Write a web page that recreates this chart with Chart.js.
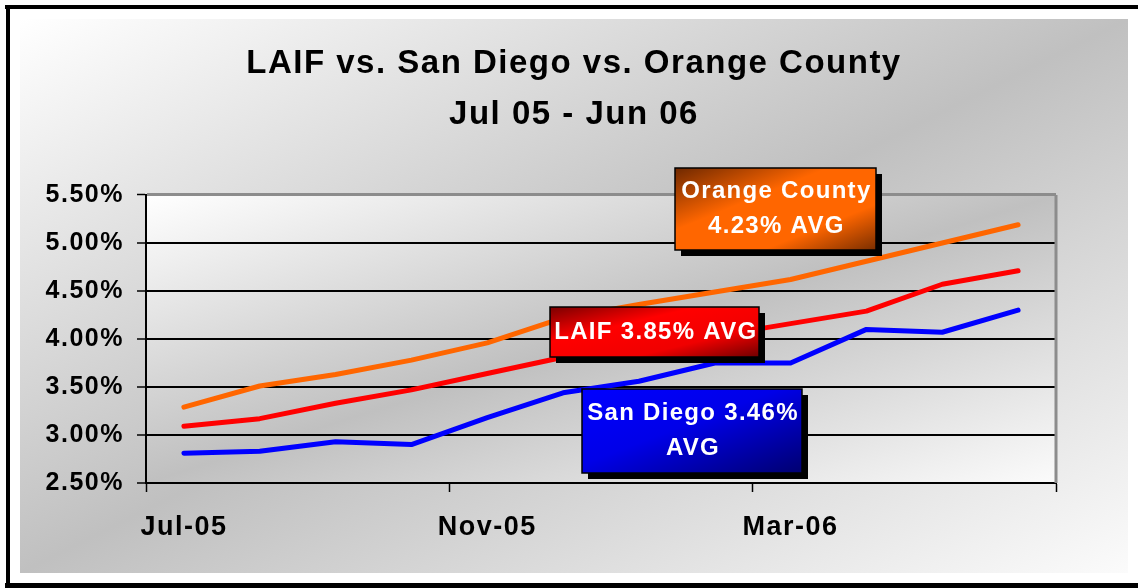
<!DOCTYPE html>
<html>
<head>
<meta charset="utf-8">
<script src="https://cdn.jsdelivr.net/npm/chart.js@4.4.0/dist/chart.umd.min.js"></script>
<style>
    html, body { margin: 0; padding: 0; background: #fff; overflow: hidden; }
    #wrap { width: 1138px; height: 588px; }
</style>
</head>
<body>
<div id="wrap"><canvas id="rateChart" width="1138" height="588"></canvas></div>
<script>
// Monthly yields, Jul 05 - Jun 06
const months = ['Jul-05', 'Aug-05', 'Sep-05', 'Oct-05', 'Nov-05', 'Dec-05',
    'Jan-06', 'Feb-06', 'Mar-06', 'Apr-06', 'May-06', 'Jun-06'];
const orangeCounty = [3.29, 3.51, 3.63, 3.78, 3.96, 4.22, 4.36, 4.49, 4.62, 4.81, 5.00, 5.19];
const laif = [3.09, 3.17, 3.33, 3.47, 3.64, 3.81, 3.92, 4.03, 4.16, 4.29, 4.57, 4.71];
const sanDiego = [2.81, 2.83, 2.93, 2.90, 3.18, 3.44, 3.56, 3.75, 3.75, 4.10, 4.07, 4.30];
const titleLines = ['LAIF vs. San Diego vs. Orange County', 'Jul 05 - Jun 06'];
const yMin = 2.5;
const yMax = 5.5;
const yStep = 0.5;

const FONT = '"Liberation Sans", Arial, Helvetica, sans-serif';

// Callout boxes, anchored in data units (category index, percent)
const callouts = [
    {lines: ['Orange County', '4.23% AVG'], at: [7.8, 5.355], w: 201, h: 82,
        stops: [[0, '#6e2800'], [0.38, '#ff6600'], [0.72, '#ff6600'], [1, '#7a2e00']]},
    {lines: ['LAIF 3.85% AVG'], at: [6.21, 4.074], w: 209, h: 50,
        stops: [[0, '#7a0000'], [0.35, '#ff0000'], [0.7, '#f00000'], [1, '#700000']]},
    {lines: ['San Diego 3.46%', 'AVG'], at: [6.70, 3.044], w: 220, h: 84,
        stops: [[0, '#0000ff'], [0.45, '#0000e8'], [1, '#000070']]}
];

//Gradient that runs from the top-left corner to the bottom-right one, like css "to bottom right"
function diagGradient(ctx, x, y, w, h, stops) {
    const cx = x + w / 2, cy = y + h / 2;
    const len = Math.sqrt(w * w + h * h);
    const dx = h / len, dy = w / len;
    const half = w * h / len;
    const g = ctx.createLinearGradient(cx - dx * half, cy - dy * half, cx + dx * half, cy + dy * half);
    stops.forEach(s => g.addColorStop(s[0], s[1]));
    return g;
}

const greyStops = [[0, '#ffffff'], [0.5, '#c0c0c0'], [1, '#fbfbfb']];

const backgroundPlugin = {
    id: 'background',
    beforeDraw(chart) {
        const ctx = chart.ctx;
        const a = chart.chartArea;
        ctx.save();
        ctx.fillStyle = '#fff';
        ctx.fillRect(0, 0, chart.width, chart.height);

        //outer grey panel
        ctx.fillStyle = diagGradient(ctx, 20, 19, 1108, 554, greyStops);
        ctx.fillRect(20, 19, 1108, 554);

        //black frame
        ctx.fillStyle = '#000';
        ctx.fillRect(5, 5, chart.width - 5, 4);
        ctx.fillRect(6, 5, 4, chart.height - 5);
        ctx.fillRect(5, 583, chart.width - 5, 5);

        //plot area
        ctx.fillStyle = diagGradient(ctx, a.left, a.top, a.right - a.left, a.bottom - a.top, greyStops);
        ctx.fillRect(a.left, a.top, a.right - a.left, a.bottom - a.top);
        ctx.restore();

        ctx.letterSpacing = '1.5px';
    },
    beforeDatasetsDraw(chart) {
        const ctx = chart.ctx;
        const a = chart.chartArea;
        ctx.save();
        ctx.strokeStyle = '#8c8c8c';
        ctx.lineWidth = 3;
        ctx.beginPath();
        ctx.moveTo(a.right, a.top);
        ctx.lineTo(a.right, a.bottom);
        ctx.stroke();
        ctx.restore();
    }
};

const calloutPlugin = {
    id: 'callouts',
    afterDatasetsDraw(chart) {
        const ctx = chart.ctx;
        const xs = chart.scales.x;
        const ys = chart.scales.y;
        ctx.save();
        callouts.forEach(c => {
            const cx = xs.getPixelForValue(c.at[0]);
            const cy = ys.getPixelForValue(c.at[1]);
            const x = Math.round(cx - c.w / 2);
            const y = Math.round(cy - c.h / 2);

            //drop shadow
            ctx.fillStyle = '#000';
            ctx.fillRect(x + 6, y + 6, c.w, c.h);

            ctx.fillStyle = diagGradient(ctx, x, y, c.w, c.h, c.stops);
            ctx.fillRect(x, y, c.w, c.h);
            ctx.strokeStyle = '#000';
            ctx.lineWidth = 1.5;
            ctx.strokeRect(x, y, c.w, c.h);

            ctx.fillStyle = '#fff';
            ctx.font = 'bold 24px ' + FONT;
            ctx.letterSpacing = '1.3px';
            ctx.textAlign = 'center';
            ctx.textBaseline = 'middle';
            const lh = 35;
            const first = cy - (c.lines.length - 1) * lh / 2;
            c.lines.forEach((t, i) => ctx.fillText(t, cx + 1, first + i * lh));
        });
        ctx.restore();
    }
};

function makeLine(data, color) {
    return {
        data: data,
        borderColor: color,
        borderWidth: 5,
        pointRadius: 0,
        tension: 0,
        borderCapStyle: 'round',
        borderJoinStyle: 'round',
        fill: false
    };
}

new Chart(document.getElementById('rateChart'), {
    type: 'line',
    data: {
        labels: months,
        datasets: [
            makeLine(sanDiego, '#0000ff'),
            makeLine(laif, '#ff0000'),
            makeLine(orangeCounty, '#ff6600')
        ]
    },
    options: {
        responsive: false,
        animation: false,
        layout: {padding: {left: 10, right: 0, top: 0, bottom: 0}},
        plugins: {
            legend: {display: false},
            tooltip: {enabled: false},
            title: {
                display: true,
                text: titleLines,
                color: '#000',
                font: {family: FONT, size: 33, weight: 'bold', lineHeight: 1.545},
                padding: {top: 38, bottom: 55}
            }
        },
        scales: {
            x: {
                offset: true,
                afterFit: (scale) => { scale.height = 105; },
                grid: {
                    offset: true,
                    drawOnChartArea: false,
                    tickLength: 9,
                    tickWidth: 1.5,
                    tickColor: (c) => (c.index === undefined || c.index % 4 === 0) ? '#000' : 'rgba(0,0,0,0)'
                },
                border: {display: true, color: '#000', width: 2},
                ticks: {
                    autoSkip: false,
                    maxRotation: 0,
                    padding: 19,
                    color: '#000',
                    font: {family: FONT, size: 27, weight: 'bold'},
                    callback: (v, i) => i % 4 === 0 ? months[i] : ''
                }
            },
            y: {
                min: yMin,
                max: yMax,
                afterFit: (scale) => { scale.width = 136; },
                grid: {
                    color: (c) => c.tick && c.tick.value === yMax ? '#8c8c8c' : '#000',
                    lineWidth: (c) => c.tick && c.tick.value === yMax ? 3 : 2,
                    tickColor: '#000',
                    tickLength: 9,
                    tickWidth: 1.5
                },
                border: {display: true, color: '#000', width: 2},
                ticks: {
                    stepSize: yStep,
                    padding: 13,
                    color: '#000',
                    font: {family: FONT, size: 25, weight: 'bold'},
                    callback: (v) => v.toFixed(2) + '%'
                }
            },
            //empty axis that only keeps the right margin free
            spacer: {
                position: 'right',
                afterFit: (scale) => { scale.width = 82; },
                grid: {display: false},
                border: {display: false},
                ticks: {display: false}
            }
        }
    },
    plugins: [backgroundPlugin, calloutPlugin]
});
</script>
</body>
</html>
